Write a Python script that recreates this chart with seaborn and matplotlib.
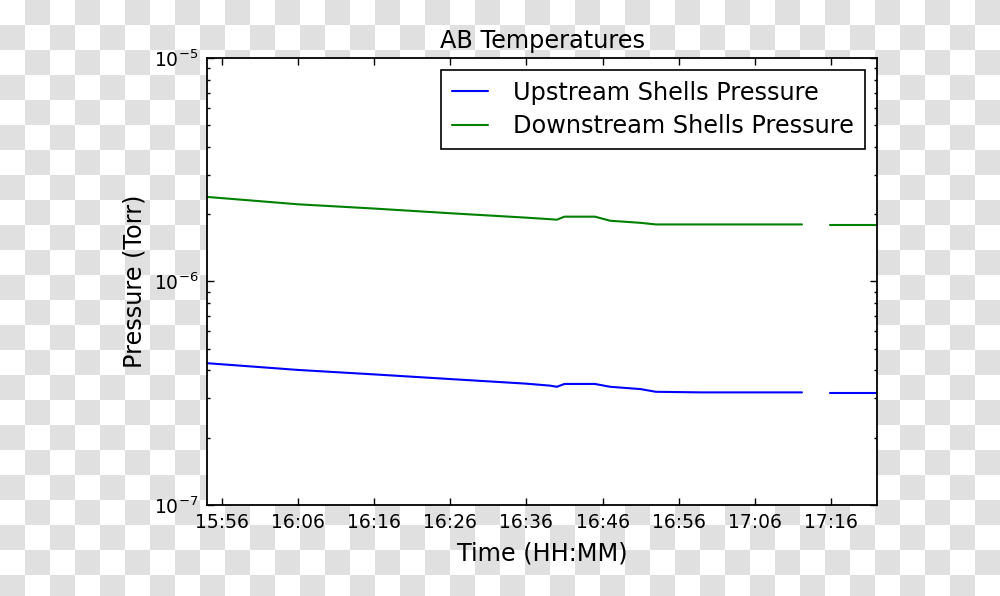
import numpy as np
import pandas as pd
import matplotlib
matplotlib.use('Agg')
import matplotlib.pyplot as plt
import matplotlib.dates as mdates
import seaborn as sns

# Values
day = '2015-06-01 '
times = ['15:54:02', '16:06:00', '16:16:00', '16:26:00', '16:36:00', '16:39:06',
         '16:40:00', '16:41:00', '16:45:00', '16:47:00', '16:51:00', '16:53:00',
         '16:59:00', '17:07:00', '17:12:12',
         '17:15:54', '17:22:04']
segment = [1, 1, 1, 1, 1, 1, 1, 1, 1, 1, 1, 1, 1, 1, 1, 2, 2]
upstream = [4.31e-7, 4.02e-7, 3.84e-7, 3.66e-7, 3.49e-7, 3.42e-7,
            3.38e-7, 3.48e-7, 3.48e-7, 3.38e-7, 3.30e-7, 3.21e-7,
            3.19e-7, 3.19e-7, 3.19e-7,
            3.18e-7, 3.18e-7]
downstream = [2.39e-6, 2.215e-6, 2.12e-6, 2.02e-6, 1.93e-6, 1.90e-6,
              1.89e-6, 1.95e-6, 1.95e-6, 1.87e-6, 1.83e-6, 1.80e-6,
              1.80e-6, 1.80e-6, 1.80e-6,
              1.79e-6, 1.79e-6]
series_names = ['Upstream Shells Pressure', 'Downstream Shells Pressure']
series_colors = ['blue', 'green']

df = pd.DataFrame({'time': pd.to_datetime([day + t for t in times]),
                   'segment': segment,
                   series_names[0]: upstream,
                   series_names[1]: downstream})
df = df.melt(id_vars=['time', 'segment'], var_name='series', value_name='pressure')

sns.set_style('ticks')
plt.rcParams['font.family'] = ['DejaVu Sans']
plt.rcParams['text.color'] = 'black'
plt.rcParams['axes.labelcolor'] = 'black'
plt.rcParams['xtick.color'] = 'black'
plt.rcParams['ytick.color'] = 'black'
plt.rcParams['xtick.direction'] = 'in'
plt.rcParams['ytick.direction'] = 'in'
plt.rcParams['xtick.top'] = True
plt.rcParams['ytick.right'] = True

fig = plt.figure(figsize=(10, 5.96), dpi=100)

# checkerboard backdrop (transparent background look)
bg = fig.add_axes([0, 0, 1, 1], zorder=-1)
checker = np.indices((24, 40)).sum(axis=0) % 2
bg.imshow(checker, cmap=matplotlib.colors.ListedColormap(['white', '#e0e0e0']),
          extent=[0, 1000, 600, 0], interpolation='nearest', aspect='auto')
bg.set_xlim(0, 1000)
bg.set_ylim(596, 0)
bg.axis('off')

ax = fig.add_axes([0.207, 0.1527, 0.67, 0.75])
ax.set_facecolor('white')
sns.lineplot(data=df, x='time', y='pressure', hue='series', units='segment',
             estimator=None, hue_order=series_names,
             palette=dict(zip(series_names, series_colors)), linewidth=1.5, ax=ax)

ax.set_yscale('log')
ax.set_ylim(1e-7, 1e-5)
ax.set_xlim(df['time'].min(), df['time'].max())
ax.xaxis.set_major_locator(mdates.MinuteLocator(byminute=[6, 16, 26, 36, 46, 56]))
ax.xaxis.set_major_formatter(mdates.DateFormatter('%H:%M'))

for s in ax.spines.values():
    s.set_visible(True)
    s.set_linewidth(1.3)
    s.set_color('black')
ax.tick_params(which='major', length=5, width=1, labelsize=13.5, pad=6)
ax.tick_params(which='minor', length=2.5, width=1)

ax.set_title('AB Temperatures', fontsize=17.3, pad=7.5)
ax.set_xlabel('Time (HH:MM)', fontsize=17.3, labelpad=6.5)
ax.set_ylabel('Pressure (Torr)', fontsize=17.3, labelpad=5.5)

handles, labels = ax.get_legend_handles_labels()
leg = ax.legend(handles, labels, loc='upper right', fontsize=17.3, fancybox=False,
                framealpha=1, edgecolor='black', handlelength=1.5, handletextpad=1.05,
                borderpad=0.45, labelspacing=0.4)
leg.get_frame().set_linewidth(1.2)

fig.savefig('out.png', dpi=100)
